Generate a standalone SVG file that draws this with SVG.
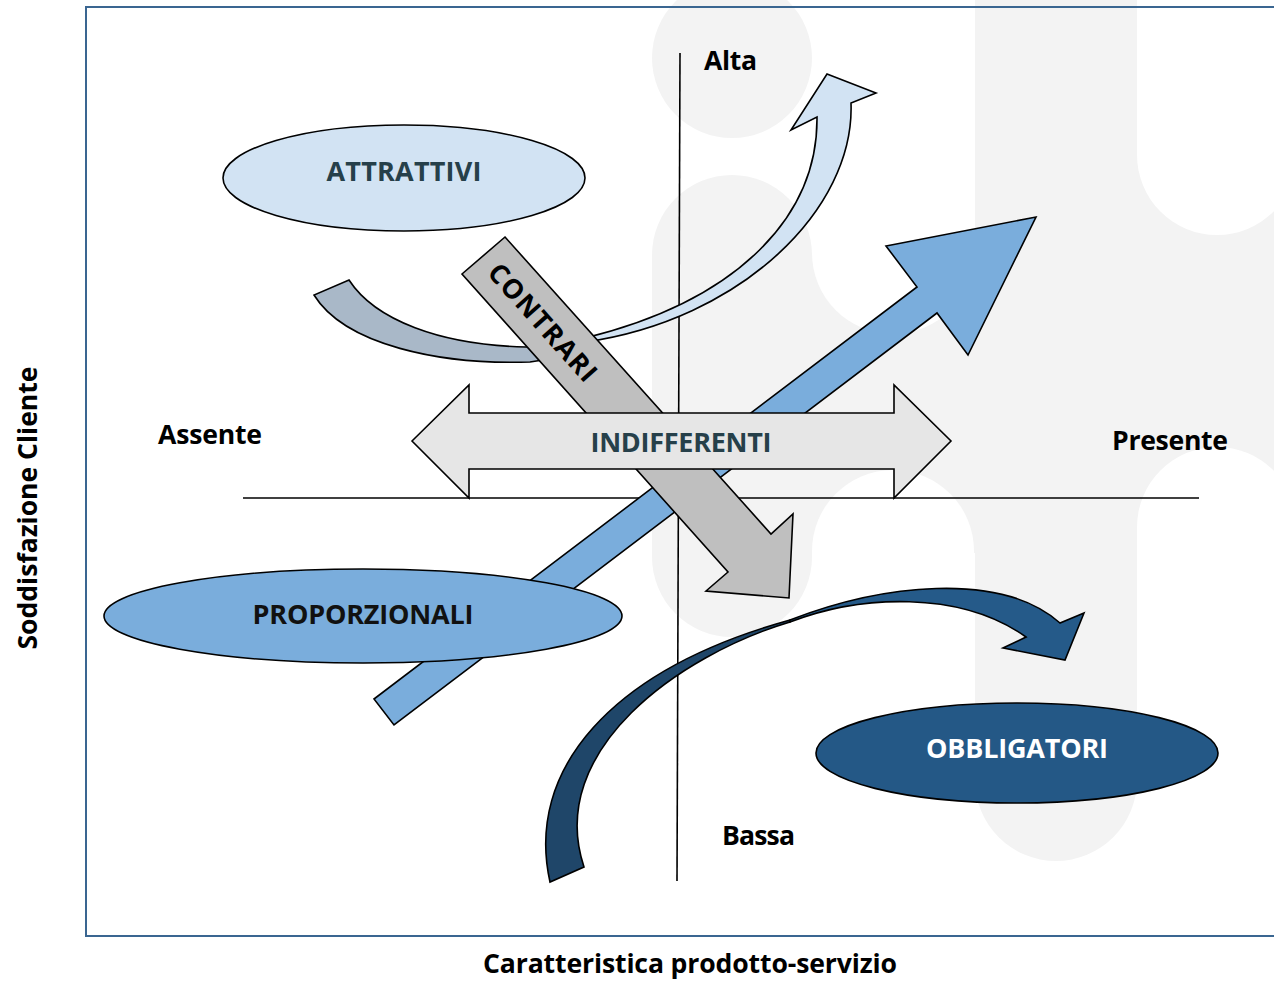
<svg xmlns="http://www.w3.org/2000/svg" width="1274" height="981" viewBox="0 0 1274 981">
<style>
.wm{fill:#f3f3f3}
.wh{fill:#ffffff}
.ax{stroke:#000;stroke-width:1.6;fill:none}
.sh{stroke:#000;stroke-width:1.6;stroke-linejoin:miter}
.t{font-family:"Open Sans","DejaVu Sans",sans-serif;font-weight:bold}
.lab{font-size:26.6px;fill:#000}
.nl{font-size:27px;text-anchor:middle}
</style>
<rect width="1274" height="981" fill="#fff"/>
<g id="watermark">
<circle class="wm" cx="732" cy="58" r="80"/>
<rect class="wm" x="652" y="175" width="160" height="462" rx="80"/>
<rect class="wm" x="800" y="253" width="190" height="300"/>
<circle class="wh" cx="893" cy="253" r="81"/>
<rect class="wh" x="812" y="-10" width="162" height="263"/>
<circle class="wh" cx="893" cy="551" r="81"/>
<rect class="wh" x="812" y="551" width="162" height="440"/>
<rect class="wm" x="1130" y="150" width="150" height="390"/>
<rect class="wm" x="975" y="-200" width="162" height="1061" rx="81"/>
<circle class="wh" cx="1217" cy="155" r="80"/>
<rect class="wh" x="1137" y="-10" width="160" height="165"/>
<circle class="wh" cx="1217" cy="527" r="80"/>
<rect class="wh" x="1137" y="527" width="160" height="470"/>
</g>
<path id="frame" d="M1280,7 H86 V936 H1280" fill="none" stroke="#3a6691" stroke-width="2"/>
<g id="axes">
<line class="ax" x1="680" y1="53" x2="677" y2="881"/>
<line class="ax" x1="243" y1="498" x2="1199" y2="498"/>
</g>
<g id="connectors">
<path id="arrow-proporzionali" class="sh" fill="#7aaddc" d="M374,699 L917,287 L886,246 L1036,217 L968,355 L937,313 L394,725 Z"/>
<path id="arrow-attrattivi-back" class="sh" fill="#a9b8c8" d="M314,295 C345,345 440,365 530,362 L575,355 L580,342 L526,347 C440,345 375,320 349,280 Z"/>
<path id="arrow-attrattivi" class="sh" fill="#d2e3f3" d="M585,342 C740,320 855,210 851,103 L876,93 L827,74 L791,130 L817,117 C818,215 740,300 585,338 Z"/>
<path id="arrow-obbligatori-back" class="sh" fill="#1f4669" d="M550,882 C525,770 610,670 790,620 L790,622 C680,655 545,750 584,867 Z"/>
<path id="arrow-obbligatori" class="sh" fill="#255a89" d="M790,620 C880,585 1000,570 1060,623 L1084,613 L1065,660 L1003,648 L1026,637 C960,590 860,595 790,622 Z"/>
</g>
<g id="node-proporzionali">
<ellipse class="sh" fill="#7aaddc" cx="363" cy="616" rx="259" ry="47"/>
<text class="t nl" x="363" y="624" fill="#111" textLength="221">PROPORZIONALI</text>
</g>
<g id="node-contrari">
<path class="sh" fill="#bfbfbf" d="M505,237 L771,534 L793,514 L789,598 L706,591 L728,572 L462,274 Z"/>
<text class="t nl" fill="#000" transform="translate(543,322) rotate(48.2)" y="10" textLength="148">CONTRARI</text>
</g>
<g id="node-indifferenti">
<path class="sh" fill="#e6e6e6" d="M412,441 L469,385 L469,413 L894,413 L894,385 L951,441 L894,498 L894,469 L469,469 L469,498 Z"/>
<text class="t nl" x="681" y="452" fill="#26404a" textLength="181">INDIFFERENTI</text>
</g>
<g id="node-attrattivi">
<ellipse class="sh" fill="#d2e3f3" cx="404" cy="178" rx="181" ry="53"/>
<text class="t nl" x="404" y="181" fill="#26404a" textLength="155">ATTRATTIVI</text>
</g>
<g id="node-obbligatori">
<ellipse class="sh" fill="#245886" cx="1017" cy="753" rx="201" ry="50"/>
<text class="t nl" x="1017" y="758" fill="#fff" textLength="182">OBBLIGATORI</text>
</g>
<g id="labels">
<text class="t lab" x="704" y="70" textLength="53">Alta</text>
<text class="t lab" x="158" y="444" textLength="104">Assente</text>
<text class="t lab" x="1112" y="450" textLength="116">Presente</text>
<text class="t lab" x="722" y="845" textLength="73">Bassa</text>
<text class="t lab" x="690" y="973" text-anchor="middle" textLength="414">Caratteristica prodotto-servizio</text>
<text class="t lab" text-anchor="middle" transform="translate(37,508) rotate(-90)" textLength="283">Soddisfazione Cliente</text>
</g>
</svg>
